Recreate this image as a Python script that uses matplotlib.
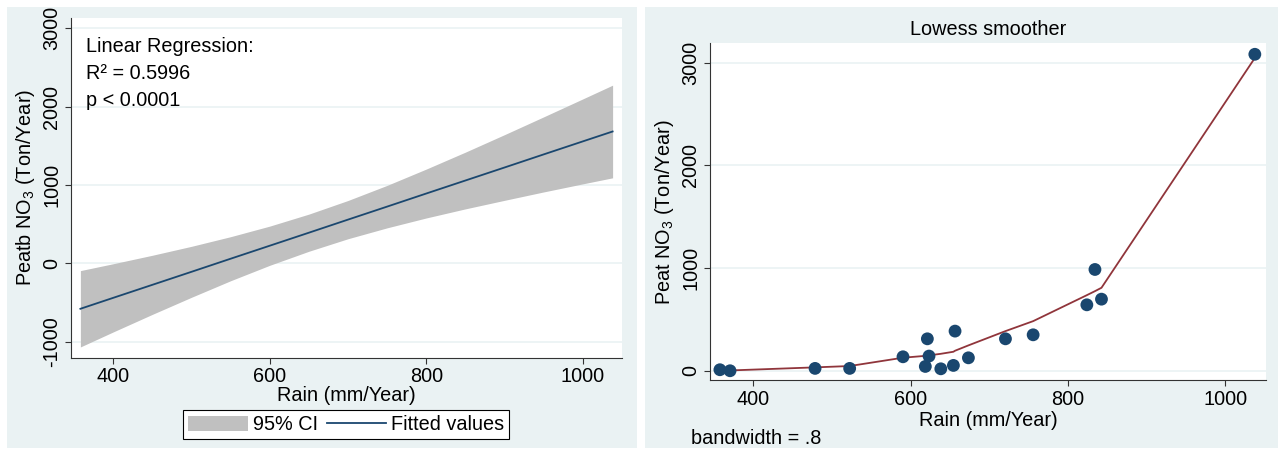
import numpy as np
import matplotlib
matplotlib.use("Agg")
import matplotlib.pyplot as plt
from matplotlib.patches import Rectangle, Patch
from matplotlib.lines import Line2D

plt.rcParams['font.family'] = ['Liberation Sans', 'DejaVu Sans']
plt.rcParams['mathtext.fontset'] = 'custom'
plt.rcParams['mathtext.rm'] = 'Liberation Sans'
plt.rcParams['mathtext.it'] = 'Liberation Sans:italic'
plt.rcParams['axes.unicode_minus'] = False

# ==========================
# Data
# ==========================
# left: linear fit with 95% CI
fit_x = [358, 400, 450, 500, 550, 600, 650, 700, 750, 800, 850, 900, 950, 1000, 1038]
fit_y = [-580, -440, -274, -108, 59, 225, 391, 558, 724, 891, 1057, 1223, 1390, 1556, 1682]
ci_upper = [-93, -5, 103, 217, 340, 475, 628, 802, 995, 1203, 1419, 1642, 1869, 2098, 2273]
ci_lower = [-1067, -875, -651, -433, -222, -25, 154, 314, 453, 579, 695, 804, 911, 1014, 1091]

# right: scatter + lowess
rain = [357.6, 370.5, 478.6, 522.6, 590.4, 618.8, 621.4, 623.5, 638.5,
        654.5, 656.6, 673.6, 720.7, 755.9, 824.2, 834.5, 842.8, 1037.8]
peat_no3 = [10, 0, 23, 23, 136, 42, 311, 143, 19,
            52, 386, 126, 311, 350, 642, 986, 697, 3081]
lowess_y = [6, 3, 33, 46, 127, 145, 148, 150, 165,
            185, 195, 247, 386, 483, 736, 775, 808, 3045]

x_ticks = [400, 600, 800, 1000]
y_ticks_left = [-1000, 0, 1000, 2000, 3000]
y_ticks_right = [0, 1000, 2000, 3000]

# ==========================
# Style
# ==========================
bg = '#EAF2F3'
navy = '#1A476F'
maroon = '#90353B'
ci_grey = '#C0C0C0'
axcol = '#333333'
fs = 14.3

W, H = 1278, 451
fig = plt.figure(figsize=(W / 100, H / 100), dpi=100)
fig.patch.set_facecolor('white')

# panel backgrounds
fig.patches.append(Rectangle((7 / W, 3 / H), 630 / W, 441 / H, transform=fig.transFigure,
                             facecolor=bg, edgecolor='none', zorder=-10))
fig.patches.append(Rectangle((645 / W, 3 / H), 633 / W, 441 / H, transform=fig.transFigure,
                             facecolor=bg, edgecolor='none', zorder=-10))


def style_axes(ax, yticks):
    ax.set_facecolor('white')
    for s in ['top', 'right']:
        ax.spines[s].set_visible(False)
    for s in ['left', 'bottom']:
        ax.spines[s].set_color(axcol)
        ax.spines[s].set_linewidth(0.8)
    ax.set_xticks(x_ticks)
    ax.set_yticks(yticks)
    ax.tick_params(axis='both', direction='out', length=4, width=0.8, color=axcol,
                   labelsize=fs, pad=3)
    for lab in ax.get_yticklabels():
        lab.set_rotation(90)
        lab.set_va('center')
    ax.grid(axis='y', color=bg, lw=1.2)
    ax.set_axisbelow(True)


# ==========================
# Left panel
# ==========================
ax1 = fig.add_axes([71 / W, 1 - 357.7 / H, 551 / W, 339.7 / H])
ax1.fill_between(fit_x, ci_lower, ci_upper, color=ci_grey, lw=0, zorder=2)
ax1.plot(fit_x, fit_y, color=navy, lw=1.3, zorder=3)
ax1.set_xlim(346, 1050)
ax1.set_ylim(-1204, 3130)
style_axes(ax1, y_ticks_left)
ax1.set_xlabel('Rain (mm/Year)', fontsize=fs, labelpad=0)
ax1.set_ylabel('Peatb NO$_3$ (Ton/Year)', fontsize=fs, labelpad=4)
ax1.text(0.027, 0.945, 'Linear Regression:\nR² = 0.5996\np < 0.0001', transform=ax1.transAxes,
         fontsize=fs, va='top', ha='left', linespacing=1.55)

handles = [Patch(facecolor=ci_grey, edgecolor='none'), Line2D([0], [0], color=navy, lw=1.3)]
leg = fig.legend(handles, ['95% CI', 'Fitted values'], loc='center',
                 bbox_to_anchor=(346.4 / W, 1 - 424.7 / H), ncol=2, fontsize=fs,
                 frameon=True, fancybox=False, edgecolor='black', framealpha=1,
                 handlelength=3.0, handleheight=0.8, handletextpad=0.25,
                 columnspacing=0.45, borderpad=0.25, borderaxespad=0)
leg.get_frame().set_linewidth(0.8)

# ==========================
# Right panel
# ==========================
ax2 = fig.add_axes([710 / W, 1 - 380 / H, 556 / W, 336.7 / H])
ax2.plot(rain, lowess_y, color=maroon, lw=1.3, zorder=3)
ax2.scatter(rain, peat_no3, s=85, color=navy, edgecolors='none', zorder=4)
ax2.set_xlim(345, 1052)
ax2.set_ylim(-90, 3188)
style_axes(ax2, y_ticks_right)
ax2.set_xlabel('Rain (mm/Year)', fontsize=fs, labelpad=2)
ax2.set_ylabel('Peat NO$_3$ (Ton/Year)', fontsize=fs, labelpad=4)
ax2.set_title('Lowess smoother', fontsize=fs, pad=6)
fig.text(691 / W, 1 - 438 / H, 'bandwidth = .8', fontsize=fs, ha='left', va='center')

fig.savefig('out.png', dpi=100)
